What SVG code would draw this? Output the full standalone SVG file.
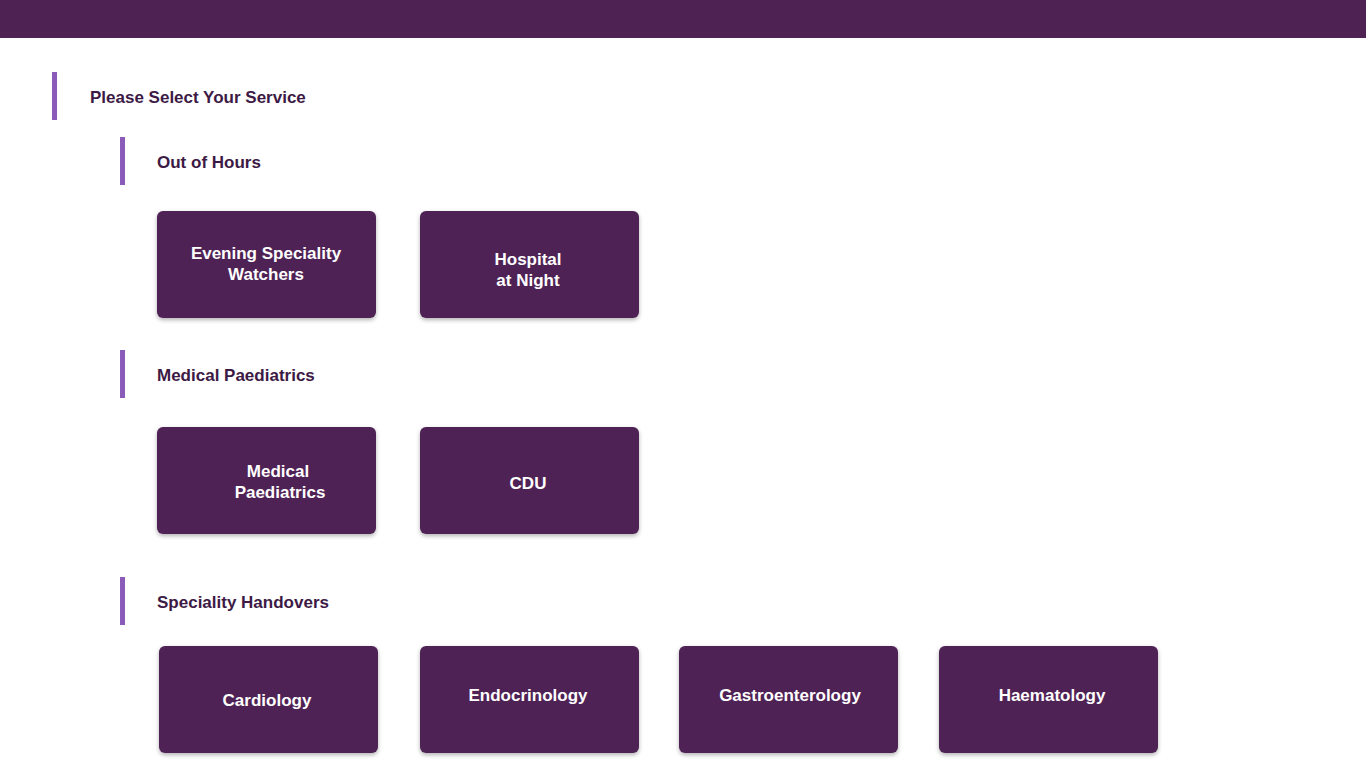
<svg xmlns="http://www.w3.org/2000/svg" width="1366" height="768" viewBox="0 0 1366 768">
<style>
.h{font-family:"Liberation Sans",Arial,sans-serif;font-weight:bold;font-size:17px;fill:#3d1a45}
.t{font-family:"Liberation Sans",Arial,sans-serif;font-weight:bold;font-size:17px;fill:#fff;text-anchor:middle}
.b{fill:#4f2254}
.bar{fill:#8a5bb8}
</style>
<defs><filter id="sh" x="-10%" y="-10%" width="120%" height="130%"><feDropShadow dx="0" dy="2" stdDeviation="2" flood-color="#000" flood-opacity="0.3"/></filter></defs>
<rect width="1366" height="768" fill="#fff"/>
<rect width="1366" height="38" fill="#4f2254"/>
<rect class="bar" x="52" y="72" width="5" height="48"/>
<text class="h" x="90" y="103">Please Select Your Service</text>
<g id="sec1"><rect class="bar" x="120" y="137" width="5" height="48"/><text class="h" x="157" y="168">Out of Hours</text></g>
<g id="sec2"><rect class="bar" x="120" y="350" width="5" height="48"/><text class="h" x="157" y="381">Medical Paediatrics</text></g>
<g id="sec3"><rect class="bar" x="120" y="577" width="5" height="48"/><text class="h" x="157" y="608">Speciality Handovers</text></g>
<g id="n1"><rect class="b" filter="url(#sh)" x="157" y="211" width="219" height="107" rx="6"/><text class="t" x="266" y="259">Evening Speciality</text><text class="t" x="266" y="280">Watchers</text></g>
<g id="n2"><rect class="b" filter="url(#sh)" x="420" y="211" width="219" height="107" rx="6"/><text class="t" x="528" y="265">Hospital</text><text class="t" x="528" y="286">at Night</text></g>
<g id="n3"><rect class="b" filter="url(#sh)" x="157" y="427" width="219" height="107" rx="6"/><text class="t" x="278" y="477">Medical</text><text class="t" x="280" y="498">Paediatrics</text></g>
<g id="n4"><rect class="b" filter="url(#sh)" x="420" y="427" width="219" height="107" rx="6"/><text class="t" x="528" y="489">CDU</text></g>
<g id="n5"><rect class="b" filter="url(#sh)" x="159" y="646" width="219" height="107" rx="6"/><text class="t" x="267" y="706">Cardiology</text></g>
<g id="n6"><rect class="b" filter="url(#sh)" x="420" y="646" width="219" height="107" rx="6"/><text class="t" x="528" y="701">Endocrinology</text></g>
<g id="n7"><rect class="b" filter="url(#sh)" x="679" y="646" width="219" height="107" rx="6"/><text class="t" x="790" y="701">Gastroenterology</text></g>
<g id="n8"><rect class="b" filter="url(#sh)" x="939" y="646" width="219" height="107" rx="6"/><text class="t" x="1052" y="701">Haematology</text></g>
<g id="connectors"/>
</svg>
